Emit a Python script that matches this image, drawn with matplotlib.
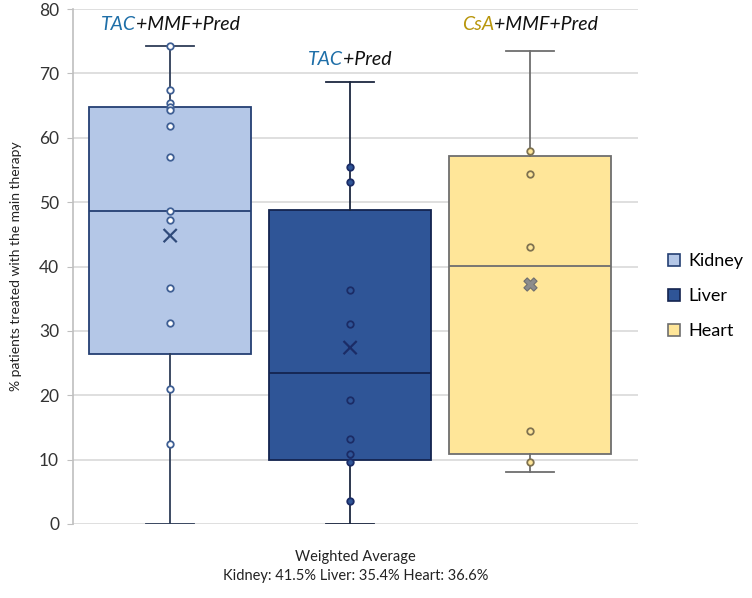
import matplotlib
matplotlib.use("Agg")
import matplotlib.pyplot as plt
from matplotlib.patches import Patch
from matplotlib.transforms import ScaledTranslation

plt.rcParams['font.family'] = ['Lato', 'DejaVu Sans']

# ---- data ----
organs = ["Kidney", "Liver", "Heart"]
regimen_drug = ["TAC", "TAC", "CsA"]
regimen_rest = ["+MMF+Pred", "+Pred", "+MMF+Pred"]
q1 = [26.4, 10.0, 10.9]
median = [48.6, 23.4, 40.1]
q3 = [64.8, 48.8, 57.2]
whisker_low = [0.0, 0.0, 8.1]
whisker_high = [74.3, 68.7, 73.4]
means = [44.8, 27.4, 37.3]
kidney_points = [74.3, 67.4, 65.4, 64.8, 64.3, 61.8, 57.0, 48.6, 47.2, 36.6, 31.3, 21.0, 12.5]
liver_points = [55.4, 53.2, 36.3, 31.0, 19.2, 13.2, 10.9, 9.6, 3.5]
heart_points = [57.9, 54.4, 43.1, 14.4, 9.7]
weighted_avg = [41.5, 35.4, 36.6]
yticks = [0, 10, 20, 30, 40, 50, 60, 70, 80]

# ---- styles ----
fill = ["#B4C7E7", "#2F5597", "#FFE699"]
edge = ["#243F73", "#14244F", "#6E6E6E"]
whisk = ["#2E3D57", "#1C2740", "#6E6E6E"]
pt_face = ["white", "#2F5597", "#FFE699"]
pt_edge = ["#3F5F94", "#1B2C66", "#7F7250"]
drug_color = ["#1F6FA8", "#1F6FA8", "#B8960C"]
label_y = [77.6, 72.2, 77.6]

fig = plt.figure(figsize=(7.52, 5.98), dpi=100)
ax = fig.add_axes([73/752, 1-524/598, (638-73)/752, (524-9)/598])

positions = [0, 1, 2]
for i in range(3):
    stats = [dict(q1=q1[i], med=median[i], q3=q3[i], whislo=whisker_low[i],
                  whishi=whisker_high[i], mean=means[i], fliers=[])]
    ax.bxp(stats, positions=[positions[i]], widths=0.9, capwidths=0.27,
           patch_artist=True, showmeans=False, showfliers=False,
           boxprops=dict(facecolor=fill[i], edgecolor=edge[i], linewidth=1.3),
           medianprops=dict(color=edge[i], linewidth=1.3),
           whiskerprops=dict(color=whisk[i], linewidth=1.3),
           capprops=dict(color=whisk[i], linewidth=1.3),
           manage_ticks=False, zorder=3)

point_sets = [kidney_points, liver_points, heart_points]
for i, pts in enumerate(point_sets):
    ax.scatter([positions[i]] * len(pts), pts, s=22, facecolor=pt_face[i],
               edgecolor=pt_edge[i], linewidth=1.3, zorder=5)

# means
ax.scatter([0, 1], means[:2], marker='x', s=90, color=["#2F4A7A", "#1B2C66"],
           linewidth=1.6, zorder=6)
ax.scatter([2], means[2:], marker='X', s=90, facecolor="#8C8C8C",
           edgecolor="#6E6E6E", linewidth=0.8, zorder=6)

ax.set_xlim(-0.54, 2.6)
ax.set_ylim(0, 80)
ax.set_yticks(yticks)
ax.set_yticklabels([str(t) for t in yticks], fontsize=12.5, color="#333333")
ax.set_xticks([])
ax.grid(axis='y', color="#D9D9D9", linewidth=1.2, zorder=0)
ax.set_axisbelow(True)
for s in ["top", "right", "bottom"]:
    ax.spines[s].set_visible(False)
ax.spines["left"].set_color("#BFBFBF")
ax.spines["left"].set_linewidth(1.2)
ax.tick_params(axis='y', length=4, color="#BFBFBF", pad=6)

ax.set_ylabel("% patients treated with the main therapy", fontsize=10, color="#222222", labelpad=12)

ax.set_xlabel("Weighted Average\n" +
              f"{organs[0]}: {weighted_avg[0]}% {organs[1]}: {weighted_avg[1]}% {organs[2]}: {weighted_avg[2]}%",
              fontsize=10.5, color="#222222", labelpad=19, linespacing=1.45)

# regimen labels (two-colour)
renderer = fig.canvas.get_renderer()
for i in range(3):
    t1 = ax.text(positions[i], label_y[i], regimen_drug[i], fontsize=14, style='italic',
                 color=drug_color[i], ha='left', va='center')
    t2 = ax.annotate(regimen_rest[i], xy=(1, 0.5), xycoords=t1, fontsize=14, style='italic',
                     color="#111111", ha='left', va='center')
    w = t1.get_window_extent(renderer).width + t2.get_window_extent(renderer).width
    t1.set_transform(ax.transData + ScaledTranslation(-w / 2 / fig.dpi, 0, fig.dpi_scale_trans))

handles = [Patch(facecolor=fill[i], edgecolor=edge[i], linewidth=1.2, label=organs[i]) for i in range(3)]
fig.legend(handles=handles, loc='center left', bbox_to_anchor=(652/752, 1-296/598),
           frameon=False, fontsize=13, handlelength=0.65, handleheight=0.65,
           handletextpad=0.45, labelspacing=1.05)

fig.savefig("out.png", dpi=100)
